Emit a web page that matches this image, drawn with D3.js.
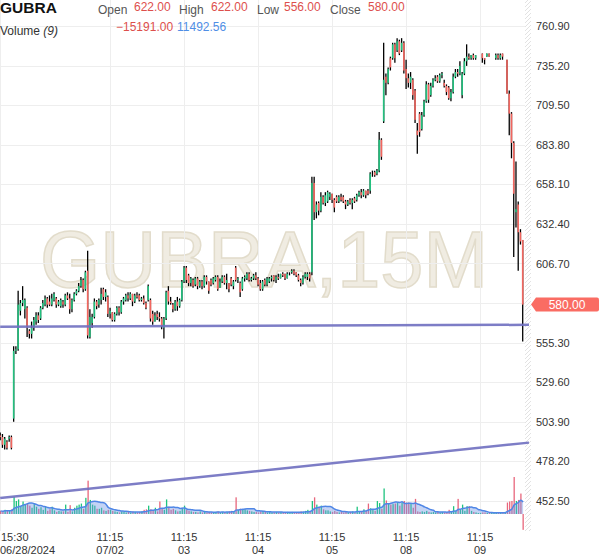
<!DOCTYPE html>
<html>
<head>
<meta charset="utf-8">
<script src="https://cdn.jsdelivr.net/npm/d3@7"></script>
<style>
  body { margin: 0; background: #fff; }
  svg { display: block; font-family: "Liberation Sans", Arial, sans-serif; }
</style>
</head>
<body>
<div id="chart"></div>
<script>
var symbol = "GUBRA"
var interval = "15M"
var maPeriod = 9

// [open, high, low, close] per 15 minute bar
var ohlc = [
  // 06/28
  [495,497,492,494],[494,496,487,489],[489,494,486,493],[491,492,486,487],[493,495,491,494],
  [494,495,486,487],[506,553,504,550],[550,553,548,551],[551,589,550,580],[576,583,573,581],
  [581,592,579,583],
  // 07/01
  [577,584,571,583],[578,579,559,565],[563,564,558,561],[561,569,558,565],[565,572,563,570],
  [569,575,567,573],[573,575,568,570],[571,579,570,578],[578,583,577,581],[580,586,579,584],
  [584,585,578,580],[582,586,579,580],[580,587,579,584],[583,588,582,587],[584,585,578,580],
  [580,583,579,582],[579,584,578,583],[582,583,578,580],[580,587,579,586],[586,588,583,584],
  [584,587,574,577],[577,584,575,583],[583,588,582,587],[587,590,586,589],[589,594,588,592],
  [592,598,591,596],[596,597,588,590],[590,602,589,601],[602,615,558,560],[559,577,558,572],
  [568,574,565,572],[572,584,571,582],[582,583,577,579],
  // 07/02
  [580,584,578,583],[583,591,580,587],[590,591,583,585],[585,590,582,588],[585,586,572,574],
  [574,578,571,576],[575,575,569,570],[570,575,569,574],[574,579,573,578],[578,579,573,575],
  [575,583,574,582],[582,585,580,584],[583,587,582,586],[586,588,582,584],[584,588,583,587],
  [587,587,579,582],[582,587,581,586],[586,588,584,585],[586,587,582,583],[583,585,582,584],
  [584,586,580,581],[581,582,577,578],[583,593,582,592],[583,584,569,571],[574,576,567,569],
  [569,575,569,573],[574,576,570,572],[572,575,569,571],[571,572,564,566],[565,572,558,571],
  [571,589,570,588],[589,592,580,582],[582,585,580,581],
  // 07/03
  [580,581,575,577],[577,583,576,582],[582,585,576,579],[579,584,578,583],[583,596,582,595],
  [595,605,594,604],[604,605,594,596],[599,600,592,594],[594,598,592,597],[596,597,591,592],
  [593,598,592,597],[597,598,590,592],[592,596,591,595],[595,596,590,592],[592,599,591,598],
  [598,599,593,595],[595,595,587,589],[596,597,592,593],[594,598,593,597],[596,599,595,598],
  [598,599,589,590],[591,597,591,595],[595,599,594,598],[598,599,593,594],[594,600,590,596],
  [594,594,588,590],[597,598,592,593],[592,596,590,595],[604,605,595,596],[596,598,594,597],
  [594,595,585,588],[590,598,589,597],[597,599,595,598],
  // 07/04
  [597,601,596,600],[600,601,595,596],[596,598,595,597],[597,600,596,599],[599,601,596,597],
  [597,598,592,593],[594,596,589,590],[590,596,589,595],[596,597,592,593],[593,598,592,597],
  [595,598,594,597],[597,599,595,598],[599,599,595,596],[596,599,594,598],[598,600,596,597],
  [597,600,597,600],[600,601,598,599],[600,600,596,597],[597,601,597,600],[600,601,599,600],
  [601,603,600,602],[602,603,599,600],[601,601,598,599],[599,600,595,596],[596,597,592,594],
  [594,599,593,598],[598,601,597,600],[598,601,596,600],[600,601,595,597],[601,663,599,659],
  [659,663,635,640],[640,647,636,645],[646,647,638,641],
  // 07/05
  [641,653,640,650],[650,651,645,646],[646,653,644,651],[647,654,646,653],[650,653,648,652],
  [652,652,646,648],[648,649,640,643],[650,651,646,647],[647,651,646,650],[650,652,647,648],
  [650,651,646,647],[647,648,642,645],[645,648,644,647],[648,649,645,646],[646,649,642,648],
  [649,650,646,647],[648,652,647,651],[651,654,650,653],[653,655,649,651],[651,655,650,654],
  [654,654,649,651],[654,655,651,652],[654,666,652,665],[665,667,663,665],[666,667,663,664],
  [665,668,664,667],[667,692,666,687],[687,688,674,676],[699,750,698,726],[728,730,716,724],
  [724,734,723,733],[740,741,732,734],[740,750,739,749],
  // 07/08
  [749,750,737,740],[745,753,744,751],[751,752,742,743],[745,753,744,750],[750,751,730,732],
  [733,739,720,727],[727,730,721,724],[724,731,720,728],[726,727,713,716],[719,720,698,700],
  [693,698,678,690],[704,705,689,692],[694,705,693,703],[703,713,702,712],[712,725,711,723],
  [723,724,711,713],[716,724,715,722],[722,727,721,726],[726,729,725,727],[728,729,724,725],
  [725,730,724,729],[729,731,727,730],[724,726,721,722],[722,723,716,718],[721,722,713,714],
  [714,720,712,718],[718,730,717,728],[728,733,727,731],[731,733,728,730],[730,738,729,735],
  [716,731,714,730],[730,740,729,738],[738,749,735,741],
  // 07/09
  [741,743,739,740],[740,742,739,742],[742,743,739,740],[740,742,739,742],[741,741,741,741],
  [741,741,741,741],[743,743,737,740],[740,740,736,739],[741,743,741,743],[743,743,741,741],
  [741,741,741,741],[741,741,741,741],[740,743,739,742],[742,743,739,740],[740,743,739,742],
  [743,743,739,741],[741,741,741,741],[739,739,717,717],[717,719,690,704],[704,705,675,685],
  [685,686,611,652],[640,673,630,642],[645,647,602,627],[627,629,619,621],[622,622,556,580]
]

var volumes = [
  // 06/28
  3000,2500,4000,3000,3500,4500,16500,12500,14000,7000,12000,
  // 07/01
  9000,10500,8000,6000,9500,7000,5000,6500,4000,7000,
  3000,4500,7000,3500,2000,3000,2500,2500,9000,2000,
  8500,2500,6000,8000,9000,10000,5000,15500,32000,13500,
  9000,8000,5000,
  // 07/02
  5000,6000,3500,3000,4000,4000,3000,2500,2000,1500,
  2500,2000,1500,2000,1500,2500,2000,1500,2000,2500,
  4000,4500,8000,4500,3000,6000,2500,12000,5000,4000,
  14000,7000,4000,
  // 07/03
  5000,3500,2500,3000,6000,8000,4000,3000,2500,2000,
  2000,1500,2500,1500,2000,1500,2000,1500,1500,2000,
  2500,1500,2000,1500,2000,2500,3000,2500,16000,4000,
  5000,4000,4500,
  // 07/04
  3500,3000,2500,2000,2000,1500,2500,3000,2000,1500,
  2000,1500,1500,2000,1500,2000,1500,1500,2000,1500,
  2000,1500,1500,2000,2500,2000,3000,4000,2500,12500,
  16000,9000,6000,
  // 07/05
  8000,4500,3500,3500,2500,2000,3000,2000,1500,2000,
  1500,2000,1500,2000,2500,1500,7000,2500,2000,4500,
  3000,10000,5500,4500,3000,12500,10500,5000,24500,13000,
  10000,9000,9500,
  // 07/08
  10000,10500,8000,11000,12500,11000,11000,10000,6000,14500,
  2500,2000,2500,2000,3000,2000,1500,2000,1500,2000,
  1500,2000,1500,2000,4000,2500,7500,3000,14500,4500,
  9000,3000,7500,
  // 07/09
  7500,3000,2000,1500,1000,1000,1500,1500,1000,1500,
  1000,1000,1500,1000,1500,1000,2000,11000,12000,12500,
  35500,12500,13500,19624,-15191
]

var priceTicks = [760.9, 735.2, 709.5, 683.8, 658.1, 632.4, 606.7, 581.0, 555.3, 529.6, 503.9, 478.2, 452.5]

var timeTicks = [
  {i: 0, time: "15:30", date: "06/28/2024"},
  {i: 49, time: "11:15", date: "07/02"},
  {i: 82, time: "11:15", date: "03"},
  {i: 115, time: "11:15", date: "04"},
  {i: 148, time: "11:15", date: "05"},
  {i: 181, time: "11:15", date: "08"},
  {i: 214, time: "11:15", date: "09"}
]

// drawn lines, [bar index, price]
var trendLines = [
  [[0, 565.6], [235.8, 566.9]],
  [[0, 454.4], [235.8, 490.4]]
]

var upColor = "#22c07e", downColor = "#f2665f"
var volUp = "#1fc47f", volDown = "#e8667c"
var fmt = d3.format(".2f")

var width = 599, height = 557
var plotRight = 525

var svg = d3.select("#chart").append("svg")
  .attr("width", width)
  .attr("height", height)

var x = d3.scaleLinear().domain([0, ohlc.length - 1]).range([0.2, 522.7])
var y = d3.scaleLinear().domain([452.5, 760.9]).range([501, 26])
var yVol = d3.scaleLinear().domain([0, 35500]).range([514, 477])

var defs = svg.append("defs")
var pat = defs.append("pattern")
  .attr("id", "hatch")
  .attr("patternUnits", "userSpaceOnUse")
  .attr("width", 4)
  .attr("height", 4)
pat.append("path")
  .attr("d", "M-1,1 l2,-2 M0,4 l4,-4 M3,5 l2,-2")
  .attr("stroke", "#e2e2e2")
  .attr("stroke-width", 1)

// watermark
svg.append("text")
  .attr("x", 40)
  .attr("y", 287)
  .attr("font-size", 80)
  .attr("textLength", 448)
  .attr("lengthAdjust", "spacingAndGlyphs")
  .attr("fill", "#f0ece2")
  .attr("stroke", "#e2dccb")
  .attr("stroke-width", 1.5)
  .text(symbol + "," + interval)

// grid
svg.append("g").selectAll("line")
  .data(priceTicks)
  .enter()
  .append("line")
  .attr("x1", 0)
  .attr("x2", plotRight)
  .attr("y1", function(d) { return Math.round(y(d)) + 0.5 })
  .attr("y2", function(d) { return Math.round(y(d)) + 0.5 })
  .attr("stroke", "#eeeeee")

svg.append("g").selectAll("line")
  .data(timeTicks)
  .enter()
  .append("line")
  .attr("x1", function(d) { return Math.round(x(d.i)) + 0.5 })
  .attr("x2", function(d) { return Math.round(x(d.i)) + 0.5 })
  .attr("y1", 0)
  .attr("y2", 531)
  .attr("stroke", "#eeeeee")

// hatched strip at the price scale edge
svg.append("rect")
  .attr("x", plotRight)
  .attr("y", 0)
  .attr("width", 6)
  .attr("height", 531)
  .attr("fill", "url(#hatch)")

// volume
var ma = volumes.map(function(v, i) {
  return d3.mean(volumes.slice(Math.max(0, i - maPeriod + 1), i + 1))
})

svg.append("g").selectAll("rect")
  .data(volumes)
  .enter()
  .append("rect")
  .attr("x", function(d, i) { return x(i) - 0.2 })
  .attr("width", 1.3)
  .attr("y", function(d) { return d >= 0 ? yVol(d) : yVol(0) })
  .attr("height", function(d) { return Math.abs(yVol(d) - yVol(0)) })
  .attr("fill", function(d, i) {
    if (d < 0) return volDown
    return ohlc[i][3] >= ohlc[i][0] ? volUp : volDown
  })

svg.append("path")
  .datum(ma)
  .attr("d", d3.area()
    .x(function(d, i) { return x(i) + 0.4 })
    .y0(yVol(0))
    .y1(function(d) { return yVol(d) })
    .curve(d3.curveMonotoneX))
  .attr("fill", "#6f96e8")
  .attr("fill-opacity", 0.42)

svg.append("path")
  .datum(ma)
  .attr("d", d3.line()
    .x(function(d, i) { return x(i) + 0.4 })
    .y(function(d) { return yVol(d) })
    .curve(d3.curveMonotoneX))
  .attr("fill", "none")
  .attr("stroke", "#4f86e6")
  .attr("stroke-width", 1.5)

// candles
var candle = svg.append("g").selectAll("g")
  .data(ohlc)
  .enter()
  .append("g")

candle.append("line")
  .attr("x1", function(d, i) { return x(i) })
  .attr("x2", function(d, i) { return x(i) })
  .attr("y1", function(d) { return y(d[1]) })
  .attr("y2", function(d) { return y(d[2]) })
  .attr("stroke", "#000")
  .attr("stroke-width", function(d) { return d[1] > d[2] ? 1.3 : 0 })

candle.append("rect")
  .attr("x", function(d, i) { return x(i) - 0.8 })
  .attr("width", 1.6)
  .attr("y", function(d) { return y(Math.max(d[0], d[3])) })
  .attr("height", function(d) { return Math.abs(y(d[0]) - y(d[3])) })
  .attr("fill", function(d) { return d[3] >= d[0] ? upColor : downColor })

// trend lines
svg.append("g").selectAll("line")
  .data(trendLines)
  .enter()
  .append("line")
  .attr("x1", function(d) { return x(d[0][0]) })
  .attr("y1", function(d) { return y(d[0][1]) })
  .attr("x2", function(d) { return x(d[1][0]) })
  .attr("y2", function(d) { return y(d[1][1]) })
  .attr("stroke", "#6f6fc0")
  .attr("stroke-opacity", 0.9)
  .attr("stroke-width", 2.5)

// price axis
var last = ohlc[ohlc.length - 1]
var cy = y(last[3])

svg.append("g").selectAll("text")
  .data(priceTicks.filter(function(d) { return Math.abs(y(d) - cy) > 10 }))
  .enter()
  .append("text")
  .attr("x", 536)
  .attr("y", function(d) { return y(d) + 4 })
  .attr("font-size", 11)
  .attr("fill", "#333")
  .text(function(d) { return fmt(d) })

svg.append("path")
  .attr("d", "M531," + cy + " L536," + (cy - 7) + " H597 q2,0 2,2 V" + (cy + 5) + " q0,2 -2,2 H536 Z")
  .attr("fill", "#fa6c63")

svg.append("text")
  .attr("x", 567)
  .attr("y", cy + 4.5)
  .attr("text-anchor", "middle")
  .attr("font-size", 12)
  .attr("fill", "#fff")
  .text(fmt(last[3]))

// time axis
var tl = svg.append("g").selectAll("g")
  .data(timeTicks)
  .enter()
  .append("g")

tl.append("text")
  .attr("x", function(d, i) { return i == 0 ? 1 : x(d.i) })
  .attr("y", 541)
  .attr("text-anchor", function(d, i) { return i == 0 ? "start" : "middle" })
  .attr("font-size", 11)
  .attr("fill", "#333")
  .text(function(d) { return d.time })

tl.append("text")
  .attr("x", function(d, i) { return i == 0 ? 0 : x(d.i) })
  .attr("y", 554)
  .attr("text-anchor", function(d, i) { return i == 0 ? "start" : "middle" })
  .attr("font-size", 11)
  .attr("fill", "#333")
  .text(function(d) { return d.date })

// header
svg.append("text")
  .attr("x", 0)
  .attr("y", 13)
  .attr("font-size", 15.5)
  .attr("font-weight", "bold")
  .attr("fill", "#111")
  .text(symbol)

var legend = [
  {label: "Open", lx: 98, vx: 134, v: last[0]},
  {label: "High", lx: 179, vx: 211, v: last[1]},
  {label: "Low", lx: 257, vx: 284, v: last[2]},
  {label: "Close", lx: 330, vx: 368, v: last[3]}
]

var lg = svg.append("g").selectAll("g")
  .data(legend)
  .enter()
  .append("g")

lg.append("text")
  .attr("x", function(d) { return d.lx })
  .attr("y", 14)
  .attr("font-size", 12)
  .attr("fill", "#555")
  .text(function(d) { return d.label })

lg.append("text")
  .attr("x", function(d) { return d.vx })
  .attr("y", 11)
  .attr("font-size", 12)
  .attr("fill", "#dd4f4c")
  .text(function(d) { return fmt(d.v) })

var vt = svg.append("text")
  .attr("x", 0)
  .attr("y", 35)
  .attr("font-size", 12)
  .attr("fill", "#333")
vt.append("tspan").text("Volume ")
vt.append("tspan").attr("font-style", "italic").text("(" + maPeriod + ")")

svg.append("text")
  .attr("x", 116)
  .attr("y", 31)
  .attr("font-size", 12)
  .attr("fill", "#dd4f4c")
  .text(fmt(volumes[volumes.length - 1]))

svg.append("text")
  .attr("x", 177)
  .attr("y", 31)
  .attr("font-size", 12)
  .attr("fill", "#4f8ee6")
  .text(fmt(ma[ma.length - 1]))
</script>
</body>
</html>
